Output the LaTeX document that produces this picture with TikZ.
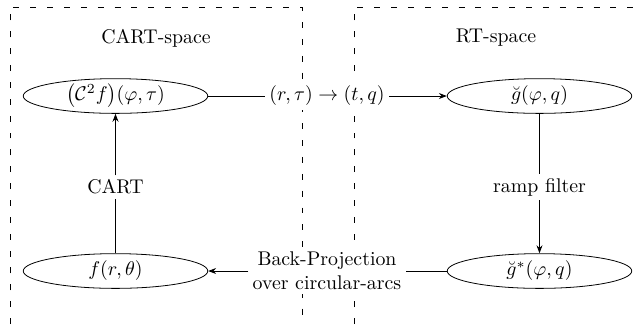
\documentclass[tikz,border=0pt]{standalone}
\usepackage{amsmath}
\usetikzlibrary{shapes.geometric,arrows.meta}
\begin{document}
\begin{tikzpicture}[x=0.504pt,y=-0.504pt,
  sbox/.style={draw,ellipse,minimum width=93pt,minimum height=17.5pt,inner sep=0pt},
  lbl/.style={fill=white,inner sep=2pt},
  frame/.style={dash pattern=on 3pt off 5.5pt},
  arr/.style={-{Stealth[length=4pt,width=3pt]}}]
\useasboundingbox (0,0) rectangle (637,324);
% dashed frames
\draw[frame] (10,324) -- (10,7) -- (302,7) -- (302,324);
\draw[frame] (354,324) -- (354,7) -- (637,7);
% titles
\node (tl) at (156,38) {CART-space};
\node (tr) at (496,38) {RT-space};
% main nodes
\node[sbox,fill=white] (c2f) at (115.5,96) {$\bigl(\mathcal{C}^2 f\bigr)(\varphi,\tau)$};
\node[sbox,fill=white] (g)   at (539.5,96) {$\breve{g}(\varphi,q)$};
\node[sbox,fill=white] (f)   at (115.5,271) {$f(r,\theta)$};
\node[sbox,fill=white] (gs)  at (539.5,271) {$\breve{g}^*(\varphi,q)$};
% labels
\node[lbl] (map)  at (327,96) {$(r,\tau)\to(t,q)$};
\node[lbl] (cart) at (115.5,187) {CART};
\node[lbl] (ramp) at (539.5,187) {ramp filter};
\node[lbl,align=center] (bp) at (327,271) {Back-Projection\\over circular-arcs};
% connectors
\draw (c2f) -- (map);
\draw[arr] (map) -- (g);
\draw (g) -- (ramp);
\draw[arr] (ramp) -- (gs);
\draw (gs) -- (bp);
\draw[arr] (bp) -- (f);
\draw (f) -- (cart);
\draw[arr] (cart) -- (c2f);
\end{tikzpicture}
\end{document}
